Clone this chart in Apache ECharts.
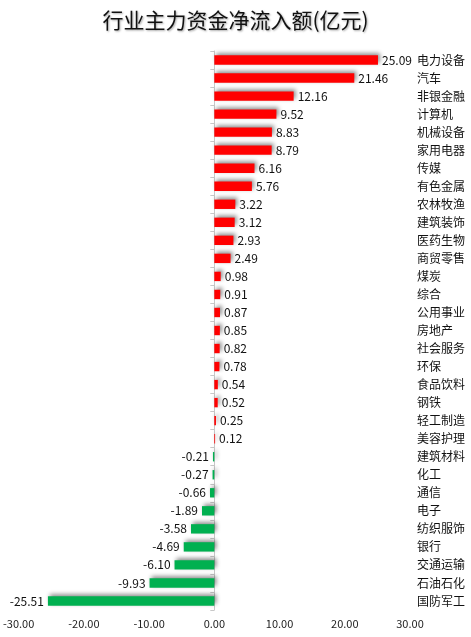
<!DOCTYPE html>
<html>
<head>
<meta charset="utf-8">
<script src="https://cdn.jsdelivr.net/npm/echarts@6/dist/echarts.min.js"></script>
<style>
  html, body { margin: 0; padding: 0; background: #fff; }
  #main { width: 471px; height: 637px; }
</style>
</head>
<body>
<div id="main"></div>
<script>
var categories = ['电力设备', '汽车', '非银金融', '计算机', '机械设备', '家用电器', '传媒', '有色金属',
    '农林牧渔', '建筑装饰', '医药生物', '商贸零售', '煤炭', '综合', '公用事业', '房地产', '社会服务',
    '环保', '食品饮料', '钢铁', '轻工制造', '美容护理', '建筑材料', '化工', '通信', '电子',
    '纺织服饰', '银行', '交通运输', '石油石化', '国防军工'];
var values = [25.09, 21.46, 12.16, 9.52, 8.83, 8.79, 6.16, 5.76, 3.22, 3.12, 2.93, 2.49, 0.98, 0.91,
    0.87, 0.85, 0.82, 0.78, 0.54, 0.52, 0.25, 0.12, -0.21, -0.27, -0.66, -1.89, -3.58, -4.69,
    -6.10, -9.93, -25.51];
var xTicks = [-30, -20, -10, 0, 10, 20, 30];

var font = '"Noto Sans CJK SC", "Microsoft YaHei", sans-serif';

var barData = values.map(function (v) {
    return {
        value: v,
        itemStyle: { color: v >= 0 ? '#ff0000' : '#00b050' },
        label: { position: v >= 0 ? 'right' : 'left' }
    };
});

var option = {
    backgroundColor: '#fff',
    title: {
        text: '行业主力资金净流入额(亿元)',
        left: 'center',
        top: 5,
        textStyle: {
            fontFamily: font,
            fontSize: 21,
            fontWeight: 'normal',
            color: '#111',
            textShadowColor: 'rgba(0,0,0,0.35)',
            textShadowBlur: 2,
            textShadowOffsetX: 1,
            textShadowOffsetY: 1
        }
    },
    grid: {
        left: 18,
        right: 61,
        top: 51,
        bottom: 27
    },
    xAxis: {
        type: 'value',
        min: xTicks[0],
        max: xTicks[xTicks.length - 1],
        interval: 10,
        axisLine: { show: false },
        axisTick: { show: false },
        splitLine: { show: false },
        axisLabel: {
            color: '#222',
            fontFamily: font,
            fontSize: 11,
            margin: 8,
            formatter: function (v) { return v.toFixed(2); }
        }
    },
    yAxis: [{
        type: 'category',
        data: categories,
        inverse: true,
        axisLine: { onZero: true, lineStyle: { color: '#c8c8c8' } },
        axisTick: { show: true, length: 4, lineStyle: { color: '#c8c8c8' } },
        axisLabel: { show: false }
    }, {
        type: 'category',
        data: categories,
        inverse: true,
        position: 'right',
        axisLine: { show: false, onZero: false },
        axisTick: { show: false },
        axisLabel: {
            color: '#111',
            fontFamily: font,
            fontSize: 12,
            margin: 7
        }
    }],
    series: [{
        type: 'bar',
        data: barData,
        barWidth: '52%',
        itemStyle: {
            shadowColor: 'rgba(0,0,0,0.45)',
            shadowBlur: 4,
            shadowOffsetX: 2,
            shadowOffsetY: -2
        },
        label: {
            show: true,
            distance: 4,
            color: '#111',
            fontFamily: font,
            fontSize: 12,
            formatter: function (p) { return p.value.toFixed(2); }
        }
    }]
};

var chart = echarts.init(document.getElementById('main'));
chart.setOption(option);
</script>
</body>
</html>
